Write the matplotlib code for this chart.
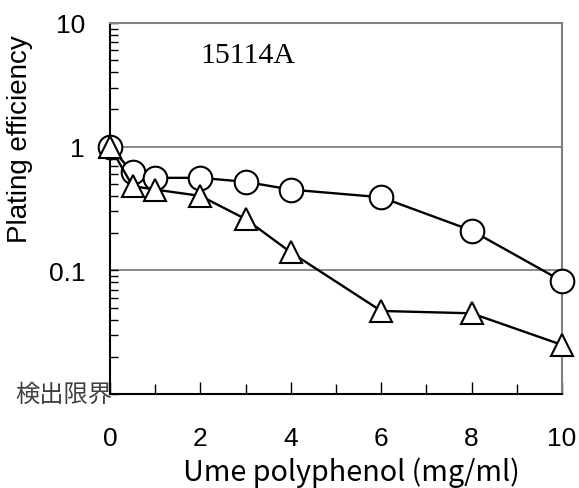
import numpy as np
import matplotlib
matplotlib.use("Agg")
import matplotlib.pyplot as plt
from matplotlib.ticker import LogLocator, FixedLocator, NullFormatter

plt.rcParams['font.family'] = ['Liberation Sans', 'Noto Sans CJK JP']

# data
conc_circle = [0, 0.5, 1, 2, 3, 4, 6, 8, 10]
pe_circle = [1.0, 0.62, 0.56, 0.56, 0.52, 0.45, 0.39, 0.21, 0.082]
conc_tri = [0, 0.5, 1, 2, 3, 4, 6, 8, 10]
pe_tri = [1.0, 0.48, 0.45, 0.40, 0.26, 0.14, 0.047, 0.045, 0.025]

xticks = [0, 2, 4, 6, 8, 10]
yticks = [0.01, 0.1, 1, 10]
ytick_labels = ['', '0.1', '1', '10']
limit_label = '検出限界'
strain = '15114A'

fig = plt.figure(figsize=(5.79, 4.89), dpi=100)
ax = fig.add_axes([0.19, 0.192, 0.7806, 0.759])

ax.set_yscale('log')
ax.set_ylim(0.01, 10)
ax.set_xlim(0, 10)

for y in [0.1, 1]:
    ax.axhline(y, color='#808080', lw=1.3, zorder=1)

ax.plot(conc_circle, pe_circle, color='black', lw=1.7, marker='o', ms=17,
        mfc='white', mec='black', mew=1.5, zorder=3, clip_on=False)
ax.plot(conc_tri, pe_tri, color='black', lw=1.7, marker='^', ms=16,
        mfc='white', mec='black', mew=1.5, zorder=4, clip_on=False)

ax.text(3.04, 5.47, strain, fontsize=21.5, family='Liberation Serif', ha='center', va='center')

for s in ['top', 'right']:
    ax.spines[s].set_color('#808080')
    ax.spines[s].set_linewidth(1.5)
for s in ['left', 'bottom']:
    ax.spines[s].set_color('black')
    ax.spines[s].set_linewidth(1.5)

ax.set_xticks(xticks)
ax.set_xticklabels([str(t) for t in xticks], family='Liberation Sans')
ax.xaxis.set_minor_locator(FixedLocator([1, 3, 5, 7, 9]))
ax.tick_params(axis='x', which='major', direction='in', length=9, width=1, labelsize=19, pad=23)
ax.tick_params(axis='x', which='minor', direction='in', length=7, width=1)

ax.yaxis.set_major_locator(FixedLocator(yticks))
ax.set_yticklabels(ytick_labels, family='Liberation Sans')
ax.yaxis.set_minor_locator(LogLocator(base=10, subs=np.arange(2, 10)))
ax.yaxis.set_minor_formatter(NullFormatter())
ax.tick_params(axis='y', which='major', direction='in', length=6, width=1, labelsize=19, pad=18)
ax.tick_params(axis='y', which='minor', direction='in', length=6, width=1)
ax.tick_params(top=False, right=False, which='both')

# detection limit label sits at the bottom of the y axis
ax.text(0.005, 0.01, limit_label, transform=ax.get_yaxis_transform(), ha='right', va='center',
        fontsize=17.5, color='#404040', family=['Noto Sans CJK JP'])

ax.set_ylabel('Plating efficiency', fontsize=20)
ax.yaxis.set_label_coords(-0.17, 0.69)
ax.set_xlabel('Ume polyphenol (mg/ml)', fontsize=20.7, family=['Noto Sans CJK JP'])
ax.xaxis.set_label_coords(0.535, -0.167)
ax.xaxis.label.set_va('top')

fig.savefig('out.png', dpi=100)
